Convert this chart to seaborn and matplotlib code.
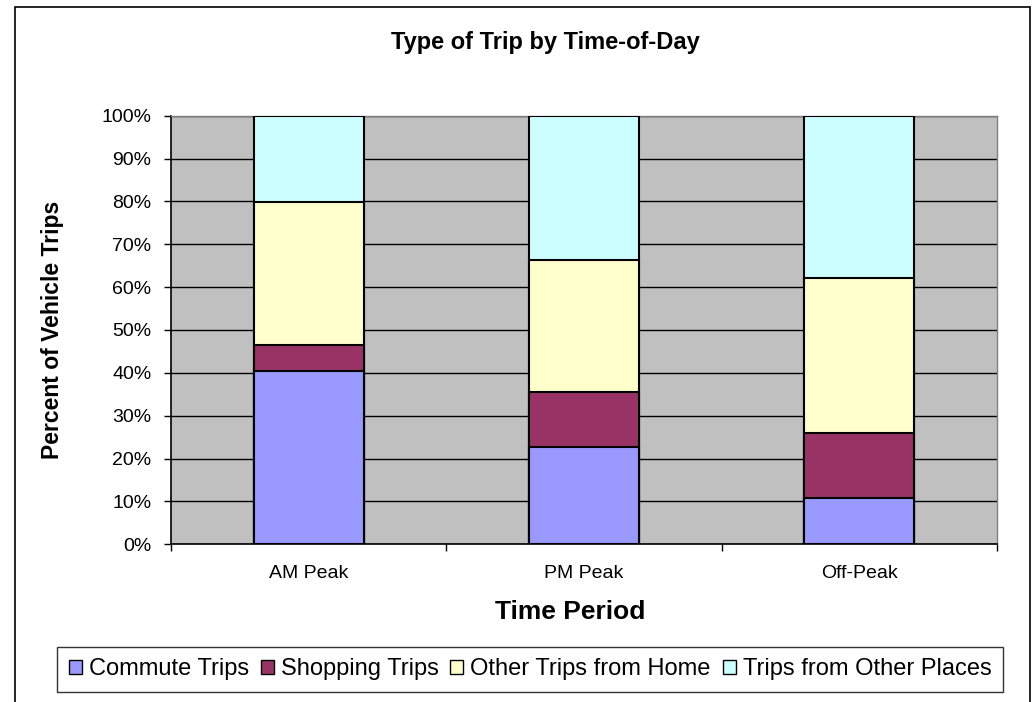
import numpy as np
import pandas as pd
import matplotlib
matplotlib.use("Agg")
import matplotlib.pyplot as plt
import seaborn as sns
from matplotlib.patches import Patch, Rectangle
from matplotlib.ticker import PercentFormatter

# Share of vehicle trips (%) by trip type for each time period
periods = ["AM Peak", "PM Peak", "Off-Peak"]
commute = [40.4, 22.6, 10.9]
shopping = [6.0, 12.9, 15.1]
other_home = [33.5, 30.9, 36.1]
other_places = [20.1, 33.6, 37.9]

series_names = ["Commute Trips", "Shopping Trips", "Other Trips from Home", "Trips from Other Places"]
series_colors = ["#9999FF", "#993366", "#FFFFCC", "#CCFFFF"]

sns.set_theme(style="white")
plt.rcParams["font.family"] = ["Liberation Sans", "DejaVu Sans"]
plt.rcParams["text.color"] = "black"
plt.rcParams["xtick.color"] = "black"
plt.rcParams["ytick.color"] = "black"
plt.rcParams["axes.labelcolor"] = "black"

df = pd.DataFrame({
    "period": periods,
    "Commute Trips": commute,
    "Shopping Trips": shopping,
    "Other Trips from Home": other_home,
    "Trips from Other Places": other_places,
})
cum = df[series_names].cumsum(axis=1)

fig = plt.figure(figsize=(10.36, 7.02), dpi=100)
ax = fig.add_axes([171 / 1036, 1 - 544.3 / 702, (997 - 171) / 1036, (544.3 - 115.7) / 702])
ax.set_facecolor("#C0C0C0")

# stacked bars: draw cumulative totals from the top layer down
for name, color in reversed(list(zip(series_names, series_colors))):
    sns.barplot(x=df["period"], y=cum[name], color=color, width=0.4,
                edgecolor="black", linewidth=1.5, saturation=1, ax=ax, zorder=3)

ax.set_ylim(0, 100)
ax.set_xlim(-0.5, 2.5)
ax.set_yticks(np.arange(0, 101, 10))
ax.yaxis.set_major_formatter(PercentFormatter(decimals=0))
ax.yaxis.grid(True, color="black", linewidth=1.0, zorder=0)
ax.set_axisbelow(True)

ax.set_xticks([0, 1, 2])
ax.set_xticklabels(periods)
ax.set_xticks([-0.5, 0.5, 1.5, 2.5], minor=True)
ax.tick_params(axis="x", which="major", length=0, pad=15, labelsize=14)
ax.tick_params(axis="x", which="minor", length=5, width=1, color="black", direction="out", bottom=True)
ax.tick_params(axis="y", length=5, width=1, color="black", direction="out", left=True, pad=9, labelsize=14)

for side in ["left", "bottom"]:
    ax.spines[side].set_color("black")
    ax.spines[side].set_linewidth(1.2)
for side in ["top", "right"]:
    ax.spines[side].set_color("#808080")
    ax.spines[side].set_linewidth(1.0)

ax.set_xlabel("")
ax.set_ylabel("")

fig.text(545 / 1036, 1 - 42 / 702, "Type of Trip by Time-of-Day", ha="center", va="center",
         fontsize=17, fontweight="bold")
fig.text(570 / 1036, 1 - 612 / 702, "Time Period", ha="center", va="center",
         fontsize=19, fontweight="bold")
fig.text(53 / 1036, 1 - 330 / 702, "Percent of Vehicle Trips", ha="center", va="center",
         rotation=90, fontsize=16.5, fontweight="bold")

# outer chart frame
fig.add_artist(Rectangle((15 / 1036, -0.05), (1030 - 15) / 1036, 1.05 - 7 / 702,
                         transform=fig.transFigure, fill=False, edgecolor="black", linewidth=1.2))

handles = [Patch(facecolor=c, edgecolor="black", linewidth=1.0) for c in series_colors]
leg = fig.legend(handles, series_names, loc="center", bbox_to_anchor=(530 / 1036, 1 - 669.5 / 702),
                 ncol=4, frameon=True, fancybox=False, edgecolor="black", fontsize=17,
                 handlelength=0.55, handleheight=0.55, handletextpad=0.3, columnspacing=0.5,
                 borderpad=0.5, borderaxespad=0)
leg.get_frame().set_linewidth(1.0)

fig.savefig("out.png", dpi=100)
